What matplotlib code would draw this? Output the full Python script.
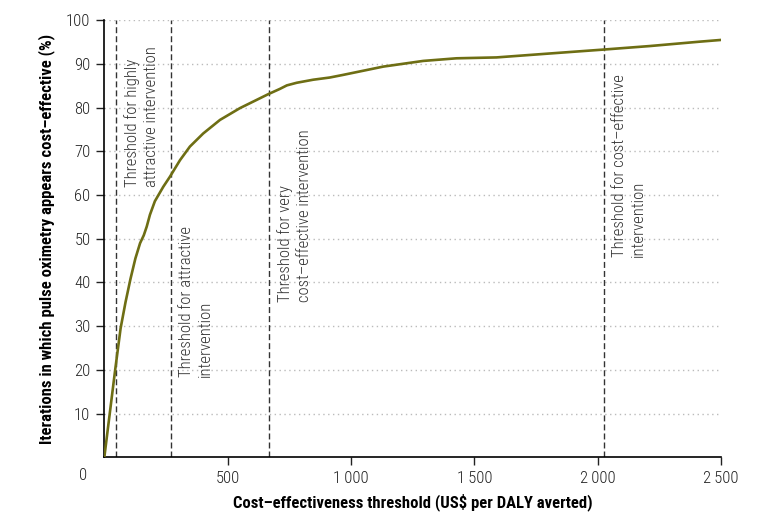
import matplotlib
matplotlib.use("Agg")
import matplotlib.pyplot as plt
from matplotlib import font_manager

cost = [0, 22, 44, 66, 86, 106, 126, 145, 160, 172, 185, 205, 239, 266, 307, 347,
        401, 469, 550, 665, 712, 740, 780, 847, 914, 968, 1131, 1293, 1428, 1590,
        1806, 2025, 2211, 2413, 2500]
pct = [0, 10, 20, 29.5, 35.5, 40.8, 45.5, 49.0, 50.8, 52.8, 55.5, 58.6, 61.9, 64.2,
       68.0, 71.1, 74.1, 77.2, 79.9, 83.1, 84.3, 85.1, 85.7, 86.4, 86.9, 87.5, 89.4,
       90.7, 91.3, 91.5, 92.4, 93.3, 94.1, 95.1, 95.5]

thresholds = [46, 270, 667, 2025]
threshold_labels = ['Threshold for highly\nattractive intervention',
                    'Threshold for attractive\nintervention',
                    'Threshold for very\ncost\u2013effective intervention',
                    'Threshold for cost\u2013effective\nintervention']
label_y = [61.9, 18.4, 35.6, 45.9]

xticks = [500, 1000, 1500, 2000, 2500]
xticklabels = ['500', '1\u2009000', '1\u2009500', '2\u2009000', '2\u2009500']
yticks = [10, 20, 30, 40, 50, 60, 70, 80, 90, 100]

avail = {f.name for f in font_manager.fontManager.ttflist}
fam = [f for f in ['Liberation Sans Narrow', 'DejaVu Sans Condensed', 'Roboto Condensed']
       if f in avail] + ['DejaVu Sans']
plt.rcParams['font.family'] = fam

fig = plt.figure(figsize=(7.71, 5.24), dpi=100)
ax = fig.add_axes([0.1353, 0.1273, 0.7997, 0.834])

for yv in yticks:
    ax.axhline(yv, color='#bbbbbb', lw=1, ls=(0, (1, 2.5)), zorder=1)

for xv, txt, ty in zip(thresholds, threshold_labels, label_y):
    ax.plot([xv, xv], [0, 100], color='#333333', lw=1, ls=(0, (4.3, 2.2)), zorder=2)
    ax.text(xv + 34, ty, txt, rotation=90, rotation_mode='anchor', ha='left', va='top',
            fontsize=12, fontweight='light', color='#333333', linespacing=1.3,
            multialignment='left')

ax.plot(cost, pct, color='#6e6e14', lw=1.9, zorder=3, solid_capstyle='round',
        solid_joinstyle='round')

ax.set_xlim(0, 2500)
ax.set_ylim(0, 100)
ax.set_xticks(xticks)
ax.set_xticklabels(xticklabels)
ax.set_yticks(yticks)
ax.tick_params(axis='both', direction='out', length=6, width=1, labelsize=12,
               colors='#222222', pad=4)
for lbl in ax.get_xticklabels() + ax.get_yticklabels():
    lbl.set_fontweight('light')
ax.text(-0.028, -0.025, '0', transform=ax.transAxes, ha='right', va='top',
        fontsize=12, fontweight='light', color='#222222')

for s in ['top', 'right']:
    ax.spines[s].set_visible(False)
for s in ['left', 'bottom']:
    ax.spines[s].set_linewidth(1.2)

ax.set_xlabel('Cost\u2013effectiveness threshold (US$ per DALY averted)', fontsize=12,
              fontweight='bold', labelpad=5)
ax.set_ylabel('Iterations in which pulse oximetry appears cost\u2013effective (%)',
              fontsize=12, fontweight='bold', labelpad=8)

fig.savefig('out.png', dpi=100)
